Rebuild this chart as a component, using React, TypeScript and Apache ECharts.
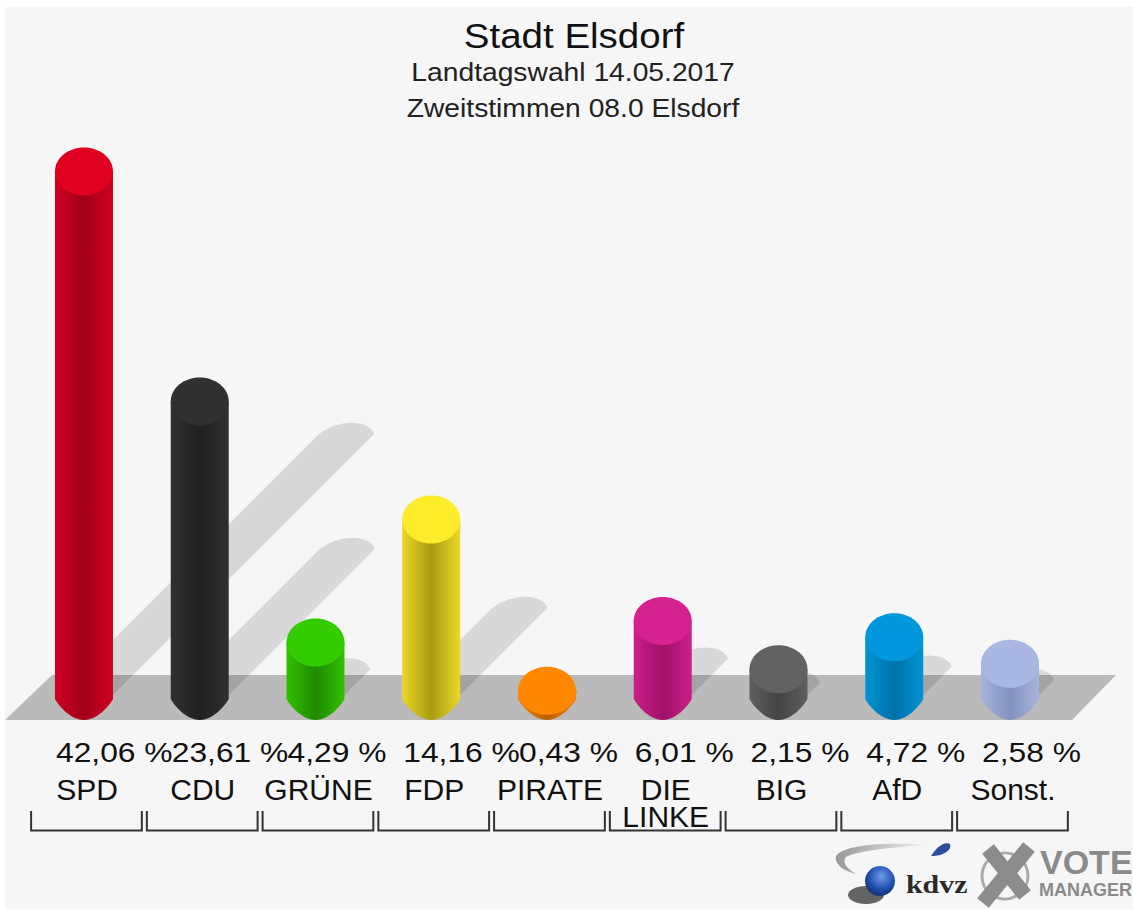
import React, { useEffect, useRef } from "react";
import * as echarts from "echarts";

const parties = ["SPD", "CDU", "GRÜNE", "FDP", "PIRATE", "DIE\nLINKE", "BIG", "AfD", "Sonst."];
const percents = [42.06, 23.61, 4.29, 14.16, 0.43, 6.01, 2.15, 4.72, 2.58];
const percentLabels = ["42,06 %", "23,61 %", "4,29 %", "14,16 %", "0,43 %", "6,01 %", "2,15 %", "4,72 %", "2,58 %"];
const capColors = ["#e0001f", "#303030", "#33cc00", "#fdec2a", "#ff8800", "#d6228f", "#626262", "#0097dc", "#a9b8e3"];
const sideColors = ["#d00022", "#303030", "#33bf00", "#ecd828", "#f08000", "#cc1f88", "#5e5e5e", "#0094d4", "#a5b4dc"];
const coreColors = ["#a00018", "#202020", "#1f8a00", "#a89a12", "#b86000", "#a0106a", "#444444", "#0070a8", "#8492bf"];

const FONT = "'Liberation Sans', Arial, sans-serif";
const RX = 29;
const RY = 24;

const renderGround = () => ({
  type: "polygon",
  shape: { points: [[52, 675], [1116, 675], [1072, 720], [5, 720]] },
  style: { fill: "#bababa" },
  silent: true,
});

const shadowPath = (cx: number, by: number, h: number) => {
  const tx = cx + 28 + h * 0.5;
  const ty = by - h * 0.5;
  return (
    `M ${cx - 27} ${by} L ${tx - 57} ${ty + 2} ` +
    `C ${tx - 40} ${ty - 14} ${tx - 6} ${ty - 16} ${tx} ${ty} L ${cx + 28} ${by} Z`
  );
};

const renderShadow = (_p: any, api: any) => {
  const base = api.coord([api.value(0), 0]);
  const top = api.coord([api.value(0), api.value(1)]);
  return {
    type: "path",
    shape: { pathData: shadowPath(base[0], base[1], base[1] - top[1]) },
    style: { fill: "#000000", opacity: 0.12 },
    silent: true,
  };
};

const renderBar = (_p: any, api: any) => {
  const i = api.value(0);
  const base = api.coord([i, 0]);
  const top = api.coord([i, api.value(1)]);
  const cx = base[0];
  const by = base[1];
  const ty = top[1];
  const d =
    `M ${cx - RX} ${ty} L ${cx - RX} ${by + 3} ` +
    `C ${cx - 24} ${by + 12} ${cx - 12} ${by + RY} ${cx} ${by + RY} ` +
    `C ${cx + 12} ${by + RY} ${cx + 24} ${by + 12} ${cx + RX} ${by + 3} L ${cx + RX} ${ty} Z`;
  return {
    type: "group",
    children: [
      {
        type: "path",
        shape: { pathData: d },
        style: {
          fill: new echarts.graphic.LinearGradient(0, 0, 1, 0, [
            { offset: 0, color: sideColors[i] },
            { offset: 0.5, color: coreColors[i] },
            { offset: 1, color: sideColors[i] },
          ]),
        },
      },
      { type: "ellipse", shape: { cx, cy: ty, rx: RX, ry: RY }, style: { fill: capColors[i] } },
    ],
  };
};

const renderFooter = (_p: any, api: any) => {
  const i = api.value(0);
  const cx = api.coord([i, 0])[0];
  const step = api.size([1, 0])[0];
  const left = cx - step / 2 + 5;
  const right = cx + step / 2;
  return {
    type: "group",
    children: [
      {
        type: "text",
        x: cx - 28,
        y: 752,
        scaleX: 1.135,
        style: {
          text: percentLabels[i],
          font: `28px ${FONT}`,
          fill: "#111",
          align: "left",
          verticalAlign: "middle",
        },
      },
      {
        type: "polyline",
        shape: { points: [[left, 811], [left, 830.5], [right, 830.5], [right, 811]] },
        style: { stroke: "#333", lineWidth: 2, fill: null },
      },
    ],
  };
};

const customData = percents.map((v, i) => [i, v]);

registerLogoShapes();

function registerLogoShapes() {
  echarts.graphic.registerShape(
    "kdvzArc",
    echarts.graphic.extendPath(
      "M 925 845 C 880 841 832 846 836 860 C 838 868 848 872 856 874 C 846 868 842 862 846 857 C 856 851 895 847 925 845 Z",
      {}
    )
  );
  echarts.graphic.registerShape(
    "kdvzSwoosh",
    echarts.graphic.extendPath("M 931 856 C 936 848 944 841 950 844 C 952 850 944 856 931 856 Z", {})
  );
}

export default function App() {
  const ref = useRef<HTMLDivElement>(null);
  useEffect(() => {
    const chart = echarts.init(ref.current!, null, { renderer: "svg" });
    chart.setOption({
      animation: false,
      backgroundColor: "#ffffff",
      grid: { left: 26.1, top: 72.5, width: 1041.75, height: 623.5 },
      xAxis: {
        type: "category",
        data: parties,
        axisLine: { show: false },
        axisTick: { show: false },
        splitLine: { show: false },
        axisLabel: {
          interval: 0,
          margin: 80,
          fontFamily: FONT,
          fontSize: 30,
          lineHeight: 27,
          color: "#111",
          padding: [0, 0, 0, 6],
          verticalAlign: "top",
        },
      },
      yAxis: { type: "value", min: 0, max: 50, show: false },
      series: [
        { type: "custom", coordinateSystem: "cartesian2d", z: 4, clip: false, silent: true, data: [[0, 0]], renderItem: renderGround },
        { type: "custom", coordinateSystem: "cartesian2d", z: 5, clip: false, silent: true, data: customData, renderItem: renderShadow },
        { type: "custom", coordinateSystem: "cartesian2d", z: 6, clip: false, silent: true, data: customData, renderItem: renderBar },
        { type: "custom", coordinateSystem: "cartesian2d", z: 7, clip: false, silent: true, data: customData, renderItem: renderFooter },
      ],
      graphic: {
        z: 0,
        elements: [
          { type: "rect", z: 0, shape: { x: 5, y: 7, width: 1128, height: 902 }, style: { fill: "#f6f6f6" } },
          { type: "text", z: 2, x: 574, y: 36, scaleX: 1.1, style: { text: "Stadt Elsdorf", font: `35px ${FONT}`, fill: "#111", align: "center", verticalAlign: "middle" } },
          { type: "text", z: 2, x: 573, y: 73, scaleX: 1.13, style: { text: "Landtagswahl 14.05.2017", font: `25px ${FONT}`, fill: "#222", align: "center", verticalAlign: "middle" } },
          { type: "text", z: 2, x: 573, y: 109, scaleX: 1.13, style: { text: "Zweitstimmen 08.0 Elsdorf", font: `25px ${FONT}`, fill: "#222", align: "center", verticalAlign: "middle" } },
          {
            type: "kdvzArc",
            z: 2,
            x: 0,
            y: 0,
            style: {
              fill: {
                type: "linear",
                x: 0,
                y: 0,
                x2: 1,
                y2: 0,
                colorStops: [
                  { offset: 0, color: "#999" },
                  { offset: 1, color: "#eee" },
                ],
              },
            },
          },
          { type: "kdvzSwoosh", z: 2, x: 0, y: 0, style: { fill: "#2d4f9e" } },
          { type: "ellipse", z: 2, shape: { cx: 866, cy: 895, rx: 18, ry: 9 }, style: { fill: "#333", opacity: 0.75 } },
          {
            type: "circle",
            z: 3,
            shape: { cx: 880, cy: 881, r: 15 },
            style: {
              fill: {
                type: "radial",
                x: 0.55,
                y: 0.35,
                r: 0.7,
                colorStops: [
                  { offset: 0, color: "#6f9be8" },
                  { offset: 0.6, color: "#1f4fb0" },
                  { offset: 1, color: "#122a66" },
                ],
              },
            },
          },
          { type: "text", z: 2, x: 906, y: 884, scaleX: 1.15, style: { text: "kdvz", font: `bold 26px 'Liberation Serif', serif`, fill: "#2a2a2a", align: "left", verticalAlign: "middle" } },
          { type: "circle", z: 2, shape: { cx: 1005, cy: 876, r: 23 }, style: { fill: null, stroke: "#aaa", lineWidth: 3 } },
          { type: "line", z: 3, shape: { x1: 1029, y1: 847, x2: 983, y2: 903 }, style: { stroke: "#8c8c8c", lineWidth: 15 } },
          { type: "line", z: 3, shape: { x1: 988, y1: 849, x2: 1025, y2: 895 }, style: { stroke: "#8c8c8c", lineWidth: 15 } },
          { type: "text", z: 2, x: 1040, y: 862, style: { text: "VOTE", font: `bold 34px ${FONT}`, fill: "#8a8a8a", align: "left", verticalAlign: "middle" } },
          { type: "text", z: 2, x: 1039, y: 890, style: { text: "MANAGER", font: `bold 18px ${FONT}`, fill: "#8a8a8a", align: "left", verticalAlign: "middle" } },
        ],
      },
    });
    return () => chart.dispose();
  }, []);
  return <div ref={ref} style={{ position: "fixed", left: 0, top: 0, width: 1133, height: 911 }} />;
}
